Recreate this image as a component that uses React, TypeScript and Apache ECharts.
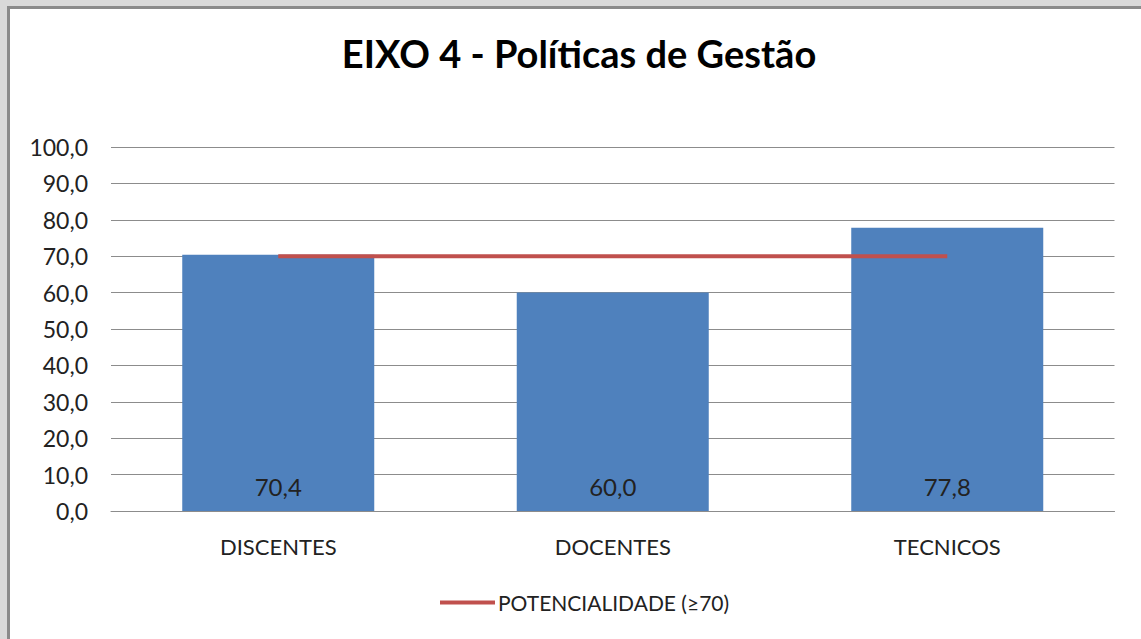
import React, { useEffect, useRef } from "react";
import * as echarts from "echarts";

const categories = ["DISCENTES", "DOCENTES", "TECNICOS"];
const scores = [70.4, 60.0, 77.8];
const threshold = [70, 70, 70];
const titleText = "EIXO 4 - Políticas de Gestão";
const legendName = "POTENCIALIDADE (≥70)";

const FONT = "Lato, 'Open Sans', sans-serif";
const fmt = (v: number) => v.toFixed(1).replace(".", ",");

export default function App() {
  const ref = useRef<HTMLDivElement>(null);
  useEffect(() => {
    if (!ref.current) return;
    const chart = echarts.init(ref.current, undefined, { renderer: "svg" });
    chart.setOption({
      animation: false,
      textStyle: { fontFamily: FONT },
      title: {
        text: titleText,
        left: 574,
        textAlign: "center",
        top: 29,
        textStyle: { fontFamily: FONT, fontSize: 38, fontWeight: "bold", color: "#000" },
      },
      grid: { left: 111, right: 26.5, top: 147, bottom: 128, containLabel: false },
      legend: {
        top: 587,
        left: 435,
        icon: "rect",
        itemWidth: 55,
        itemHeight: 4,
        itemGap: 4,
        data: [legendName],
        textStyle: { fontFamily: FONT, fontSize: 21, color: "#222", padding: [0, 0, 0, -2] },
      },
      xAxis: {
        type: "category",
        data: categories,
        axisLine: { lineStyle: { color: "#8c8c8c", width: 1 } },
        axisTick: { show: false },
        axisLabel: { fontFamily: FONT, fontSize: 22, color: "#222", margin: 24 },
      },
      yAxis: {
        type: "value",
        min: 0,
        max: 100,
        interval: 10,
        axisLine: { show: false },
        axisTick: { show: false },
        splitLine: { lineStyle: { color: "#8c8c8c", width: 1 } },
        axisLabel: { fontFamily: FONT, fontSize: 23, color: "#222", margin: 23, formatter: (v: number) => fmt(v) },
      },
      series: [
        {
          type: "bar",
          data: scores,
          barWidth: "57.4%",
          itemStyle: { color: "#4F81BD" },
          label: {
            show: true,
            position: "insideBottom",
            distance: 13,
            fontFamily: FONT,
            fontSize: 24,
            color: "#222",
            formatter: (p: any) => fmt(p.value),
          },
          z: 2,
        },
        {
          type: "line",
          name: legendName,
          data: threshold,
          symbol: "none",
          lineStyle: { color: "#C0504D", width: 4 },
          itemStyle: { color: "#C0504D" },
          z: 3,
        },
      ],
    });
    return () => chart.dispose();
  }, []);

  return (
    <div style={{ position: "fixed", left: 0, top: 0, width: 1141, height: 639, background: "#d9d9d9", overflow: "hidden" }}>
      <div
        style={{
          position: "absolute",
          left: 7,
          top: 6,
          width: 1150,
          height: 650,
          background: "#fff",
          borderLeft: "3px solid #8a8a8a",
          borderTop: "3px solid #8a8a8a",
        }}
      />
      <div ref={ref} style={{ position: "absolute", left: 0, top: 0, width: 1141, height: 639 }} />
    </div>
  );
}
